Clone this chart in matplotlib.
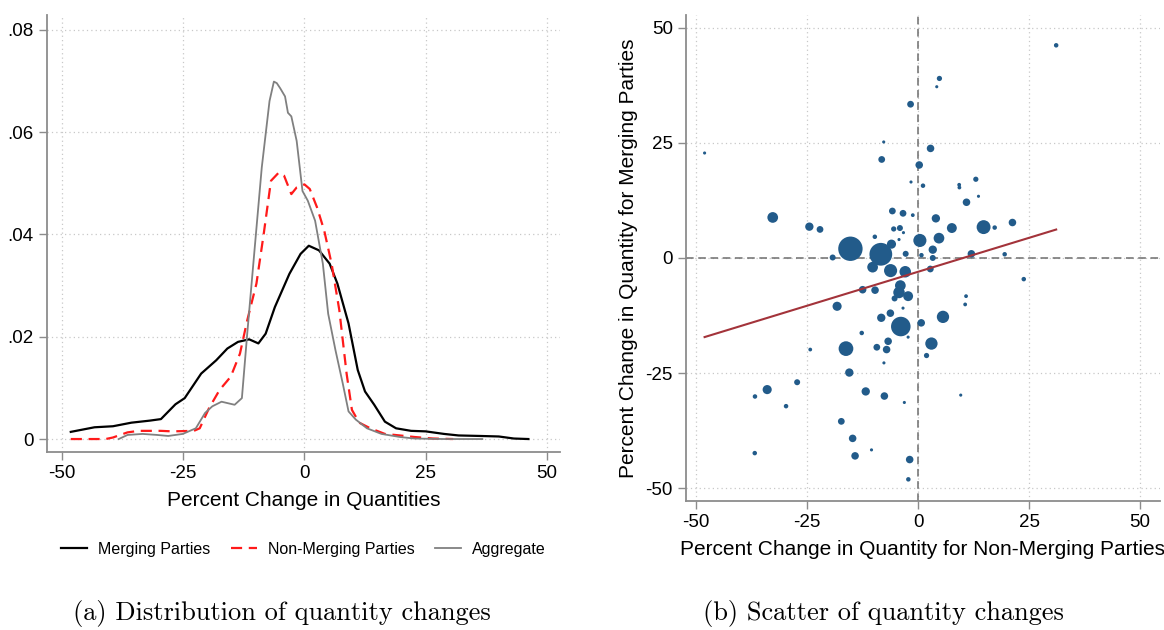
import matplotlib
matplotlib.use("Agg")
import matplotlib.pyplot as plt
import numpy as np

plt.rcParams['font.family'] = ['Liberation Sans', 'DejaVu Sans']

# densities (left panel)
merging_x = [-48.2, -43.3, -39.5, -35.7, -31.9, -29.6, -26.6, -24.7, -21.3, -18.2, -15.9, -13.7,
             -11.4, -9.5, -8.0, -6.1, -3.1, -0.8, 0.9, 3.0, 5.2, 6.8, 9.1, 11.0, 12.5, 14.4,
             16.6, 18.9, 22.0, 25.0, 28.8, 31.8, 36.3, 40.1, 43.2, 46.2]
merging_y = [0.0014, 0.0023, 0.0025, 0.0032, 0.0036, 0.0039, 0.0068, 0.0080, 0.0128, 0.0154,
             0.0177, 0.0190, 0.0195, 0.0187, 0.0206, 0.0258, 0.0323, 0.0362, 0.0378, 0.0369,
             0.0343, 0.0304, 0.0226, 0.0135, 0.0093, 0.0067, 0.0034, 0.0021, 0.0016, 0.0015,
             0.0010, 0.0007, 0.0006, 0.0005, 0.0001, 0.0]

nonmerging_x = [-48.2, -41.0, -39.5, -36.5, -34.2, -29.6, -27.3, -22.8, -21.6, -19.7, -17.5,
                -15.2, -13.3, -11.8, -9.9, -8.4, -6.9, -5.3, -4.2, -2.7, -1.6, 0.0, 1.1, 2.6,
                4.1, 5.6, 7.2, 8.7, 9.8, 11.3, 13.6, 16.6, 19.7, 22.7, 26.5, 30.7]
nonmerging_y = [0.0, 0.0, 0.0003, 0.0013, 0.0016, 0.0016, 0.0015, 0.0016, 0.0021, 0.0060,
                0.0096, 0.0122, 0.0167, 0.0232, 0.0304, 0.0401, 0.0505, 0.0521, 0.0515,
                0.0479, 0.0492, 0.0498, 0.0489, 0.0453, 0.0407, 0.0343, 0.0252, 0.0128,
                0.0057, 0.0032, 0.0021, 0.0010, 0.0007, 0.0004, 0.0001, 0.0]

aggregate_x = [-38.3, -36.5, -33.4, -30.4, -28.1, -25.1, -22.4, -20.5, -19.0, -17.1, -14.4,
               -12.9, -11.8, -10.3, -8.8, -7.2, -6.3, -5.7, -5.0, -4.0, -3.4, -2.7, -1.6,
               -0.4, 0.7, 2.2, 3.8, 4.9, 6.4, 7.9, 9.1, 10.6, 12.9, 15.9, 19.7, 22.7, 28.8, 36.7]
aggregate_y = [0.0, 0.0008, 0.0010, 0.0008, 0.0006, 0.0010, 0.0021, 0.0051, 0.0064, 0.0073,
               0.0067, 0.0080, 0.0206, 0.0369, 0.0531, 0.0661, 0.0699, 0.0696, 0.0686,
               0.0670, 0.0638, 0.0631, 0.0583, 0.0485, 0.0466, 0.0427, 0.0343, 0.0245,
               0.0174, 0.0109, 0.0054, 0.0038, 0.0021, 0.0010, 0.0004, 0.0001, 0.0, 0.0]

# scatter (right panel)
nonmerg_change = [31.1, 4.8, 4.2, -1.7, -7.75, -48.1, 2.8, -8.2, 0.25, -1.6, 1.1, 13.0, 9.25,
                  9.3, 13.6, 10.9, -32.75, -5.8, -3.4, -1.2, 4.0, -24.5, -22.1, -5.5, -4.1,
                  -3.3, 7.6, 14.75, 17.25, 21.25, -9.75, -4.3, -6.0, 0.4, 4.7, -15.25, -8.4,
                  -19.25, -2.8, 0.75, 3.3, 3.3, 12.0, 19.5, -10.25, -6.2, -2.9, 2.75, 23.8,
                  -4.0, -12.5, -9.7, -4.3, -2.25, -5.3, 10.8, 10.6, -18.25, -3.4, -6.25, -8.3,
                  -3.9, 0.7, 5.6, -12.7, -2.25, -6.75, 3.0, -16.25, -9.3, -7.1, -24.3, 1.9,
                  -7.7, -15.5, -27.25, -34.0, -36.75, -11.8, -7.6, -3.1, 9.6, -29.75, -17.3,
                  -14.75, -10.5, -36.8, -14.2, -1.9, -2.2]
merg_change = [46.2, 39.0, 37.2, 33.4, 25.2, 22.8, 23.8, 21.4, 20.2, 16.5, 15.7, 17.1, 15.9,
               15.3, 13.4, 12.1, 8.8, 10.2, 9.7, 9.3, 8.6, 6.8, 6.2, 6.3, 6.5, 5.5, 6.5, 6.7,
               6.6, 7.7, 4.6, 4.0, 3.0, 3.8, 4.3, 2.0, 0.8, 0.1, 0.9, 0.6, 1.8, 0.0, 0.9, 0.8,
               -2.0, -2.75, -3.0, -2.4, -4.6, -6.0, -6.9, -7.0, -7.5, -8.3, -8.8, -8.3, -10.1,
               -10.5, -10.9, -12.0, -13.0, -14.9, -14.1, -12.8, -16.3, -17.2, -18.1, -18.6,
               -19.7, -19.4, -19.9, -19.9, -21.2, -22.8, -24.9, -27.0, -28.6, -30.1, -29.0,
               -30.0, -31.4, -29.8, -32.2, -35.5, -39.2, -41.7, -42.4, -43.0, -43.8, -48.1]
weights = [25, 36, 9, 64, 9, 9, 81, 64, 81, 9, 25, 36, 16, 16, 9, 81, 169, 64, 64, 16, 100,
           100, 64, 36, 49, 9, 144, 289, 25, 81, 25, 9, 121, 256, 169, 900, 784, 49, 49, 25,
           100, 49, 81, 25, 169, 256, 196, 64, 25, 169, 81, 81, 196, 144, 49, 16, 16, 121, 9,
           81, 100, 576, 81, 225, 25, 9, 81, 225, 324, 64, 81, 16, 36, 9, 100, 49, 121, 25,
           100, 81, 9, 9, 25, 64, 81, 9, 25, 81, 81, 25]

fit_intercept = -3.0
fit_slope = 0.295

x_ticks = [-50, -25, 0, 25, 50]
dens_ticks = [0, 0.02, 0.04, 0.06, 0.08]
dens_labels = ['0', '.02', '.04', '.06', '.08']

spine_col = '#8c8c8c'
grid_col = '#c8c8c8'


def stata_axes(ax):
    for s in ['top', 'right']:
        ax.spines[s].set_visible(False)
    for s in ['left', 'bottom']:
        ax.spines[s].set_color(spine_col)
        ax.spines[s].set_linewidth(1.3)
    ax.tick_params(axis='both', colors=spine_col, labelcolor='black', length=6,
                   width=1.0, labelsize=13.5, direction='out')
    ax.grid(True, color=grid_col, linestyle=(0, (1, 2.5)), linewidth=0.9)
    ax.set_axisbelow(True)


fig = plt.figure(figsize=(11.64, 6.3), dpi=100)

# left panel
ax1 = fig.add_axes([0.0404, 0.2825, 0.4406, 0.6935])
stata_axes(ax1)
ax1.plot(merging_x, merging_y, color='black', lw=1.6, label='Merging Parties')
ax1.plot(nonmerging_x, nonmerging_y, color='#ff1a1a', lw=1.6, dashes=(5, 3),
         label='Non-Merging Parties')
ax1.plot(aggregate_x, aggregate_y, color='#808080', lw=1.3, label='Aggregate')
ax1.set_xlim(-53.1, 52.7)
ax1.set_ylim(-0.00254, 0.0829)
ax1.set_xticks(x_ticks)
ax1.set_xticklabels([str(t) for t in x_ticks])
ax1.set_yticks(dens_ticks)
ax1.set_yticklabels(dens_labels)
ax1.set_xlabel('Percent Change in Quantities', fontsize=15, labelpad=6)
leg = ax1.legend(loc='upper center', bbox_to_anchor=(0.5, -0.172), ncol=3, frameon=False,
                 prop={'size': 11.5}, handlelength=1.6, columnspacing=1.3, handletextpad=0.7)

# right panel
ax2 = fig.add_axes([0.5893, 0.2048, 0.4073, 0.7715])
stata_axes(ax2)
ax2.axhline(0, color='#6e6e6e', lw=1.1, dashes=(5, 3), zorder=1)
ax2.axvline(0, color='#6e6e6e', lw=1.1, dashes=(5, 3), zorder=1)
ax2.scatter(nonmerg_change, merg_change, s=np.array(weights) * 0.34 + 2, color='#225b8a',
            linewidths=0, zorder=3)
fx = np.array([min(nonmerg_change), max(nonmerg_change)])
ax2.plot(fx, fit_intercept + fit_slope * fx, color='#a3333a', lw=1.5, zorder=4)
ax2.set_xlim(-52.3, 54.5)
ax2.set_ylim(-52.8, 52.8)
ax2.set_xticks(x_ticks)
ax2.set_xticklabels([str(t) for t in x_ticks])
ax2.set_yticks(x_ticks)
ax2.set_yticklabels([str(t) for t in x_ticks])
ax2.set_xlabel('Percent Change in Quantity for Non-Merging Parties', fontsize=15, labelpad=6)
ax2.set_ylabel('Percent Change in Quantity for Merging Parties', fontsize=15, labelpad=5)

# captions
fig.text(0.242, 0.016, '(a) Distribution of quantity changes', family='cmr10',
         fontsize=19, ha='center', va='baseline')
fig.text(0.759, 0.016, '(b) Scatter of quantity changes', family='cmr10',
         fontsize=19, ha='center', va='baseline')

fig.savefig('out.png', dpi=100)
